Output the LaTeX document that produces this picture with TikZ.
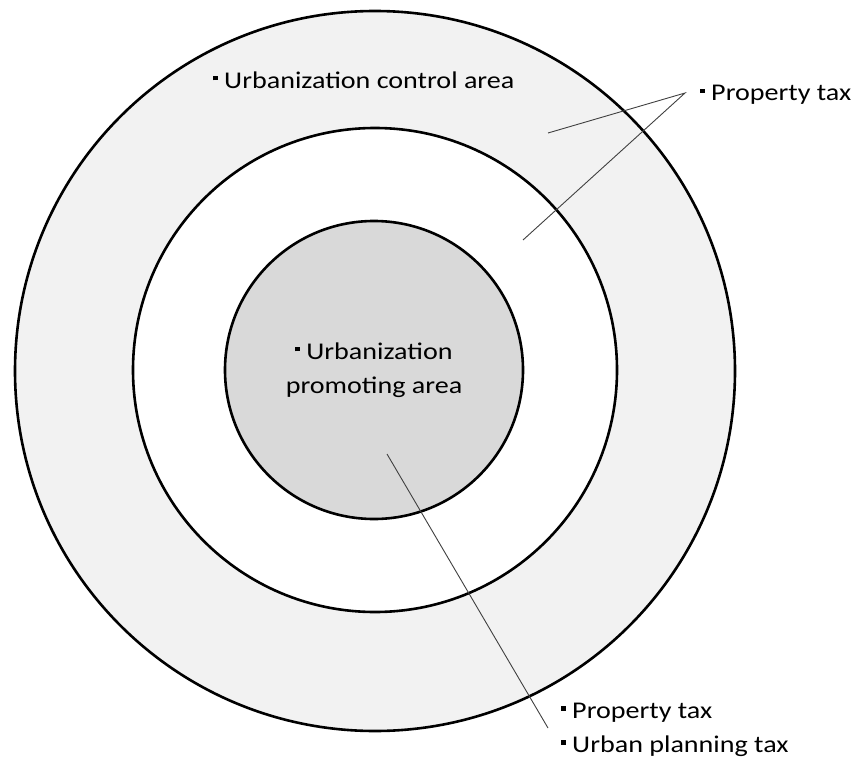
\documentclass[tikz,border=0pt]{standalone}
\usepackage{fontspec}
\setmainfont{Carlito}[FakeStretch=1.17]
\definecolor{ringgray}{HTML}{F2F2F2}
\definecolor{coregray}{HTML}{D9D9D9}
\newcommand{\sqb}{\rule[0.33em]{0.18em}{0.18em}\hspace{0.28em}}
\begin{document}
\begin{tikzpicture}[x=1pt, y=-1pt, zone/.style={circle, draw, line width=2.6pt, inner sep=0pt}, lbl/.style={font=\fontsize{24}{34}\selectfont, inner sep=0pt}, leader/.style={draw=black!75, line width=0.9pt}]
	\useasboundingbox (0,0) rectangle (859,765);
	\node[zone, fill=ringgray, minimum size=720] (outer) at (375,371) {};
	\node[zone, fill=white, minimum size=484] (middle) at (375,370) {};
	\node[zone, lbl, fill=coregray, minimum size=298, align=center] (core) at (374,370) {\sqb Urbanization\\promoting area};

	\node[lbl, anchor=west] (control) at (213,80) {\sqb Urbanization control area};
	\node[lbl, anchor=west] (ptaxa) at (700,95) {\sqb Property tax};
	\node[lbl, anchor=west, align=left] (ptaxb) at (561,730) {\sqb Property tax\\\sqb Urban planning tax};

	\coordinate (apex) at (685,93);
	\coordinate (ctrlend) at (548,133);
	\coordinate (midend) at (523,240);
	\coordinate (coreend) at (387,454);
	\coordinate (low) at (548,728);
	\draw[leader] (ctrlend) -- (apex) -- (midend);
	\draw[leader] (coreend) -- (low);
\end{tikzpicture}
\end{document}
